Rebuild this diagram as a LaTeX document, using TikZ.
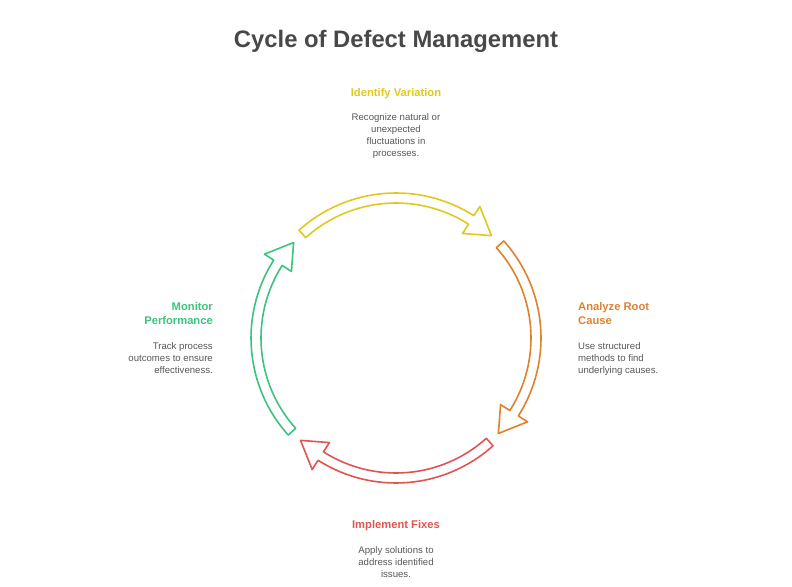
\documentclass[tikz,border=0pt]{standalone}
\usepackage{fontspec}
\setmainfont{Liberation Sans}
\definecolor{ycol}{HTML}{E0C91C}
\definecolor{ocol}{HTML}{E0812E}
\definecolor{rcol}{HTML}{E05451}
\definecolor{gcol}{HTML}{3EC27F}
\definecolor{titlecol}{HTML}{484848}
\definecolor{desccol}{HTML}{575757}
\tikzset{
  x=1pt, y=-1pt,
  ringarrow/.style={line width=1.6pt, line join=round, fill=white},
  heading/.style={inner sep=0pt, font=\fontsize{11.2}{14.5}\selectfont\bfseries},
  desc/.style={inner sep=0pt, text=desccol, font=\fontsize{9.6}{12}\selectfont},
}
\begin{document}
\begin{tikzpicture}
\useasboundingbox (0,0) rectangle (792,586);
\coordinate (c) at (396,338);
\node[inner sep=0pt, anchor=north, text=titlecol, font=\fontsize{23.8}{27}\selectfont\bfseries] (title) at (396,30.5) {Cycle of Defect Management};
% arrows
\foreach \m/\col in {89.5/ycol, -0.5/ocol, -90.5/rcol, -180.5/gcol}{
  \begin{scope}[shift={(c)}, y=1pt]
    \draw[ringarrow, draw=\col]
      ({\m+42.5}:145) arc[start angle={\m+42.5}, end angle={\m-32}, radius=145]
      -- ({\m-32}:156) -- ({\m-42.5}:140) -- ({\m-32}:124) -- ({\m-32}:135)
      arc[start angle={\m-32}, end angle={\m+42.5}, radius=135] -- cycle;
  \end{scope}
}
% texts
\node[heading, text=ycol, anchor=north, align=center] (t1) at (396,88) {Identify Variation};
\node[desc, anchor=north, align=center] (d1) at (396,113) {Recognize natural or\\unexpected\\fluctuations in\\processes.};
\node[heading, text=ocol, anchor=north west, align=left] (t2) at (578,302) {Analyze Root\\Cause};
\node[desc, anchor=north west, align=left] (d2) at (578,342) {Use structured\\methods to find\\underlying causes.};
\node[heading, text=rcol, anchor=north, align=center] (t3) at (396,520) {Implement Fixes};
\node[desc, anchor=north, align=center] (d3) at (396,546) {Apply solutions to\\address identified\\issues.};
\node[heading, text=gcol, anchor=north east, align=right] (t4) at (213,302) {Monitor\\Performance};
\node[desc, anchor=north east, align=right] (d4) at (213,342) {Track process\\outcomes to ensure\\effectiveness.};
\end{tikzpicture}
\end{document}
